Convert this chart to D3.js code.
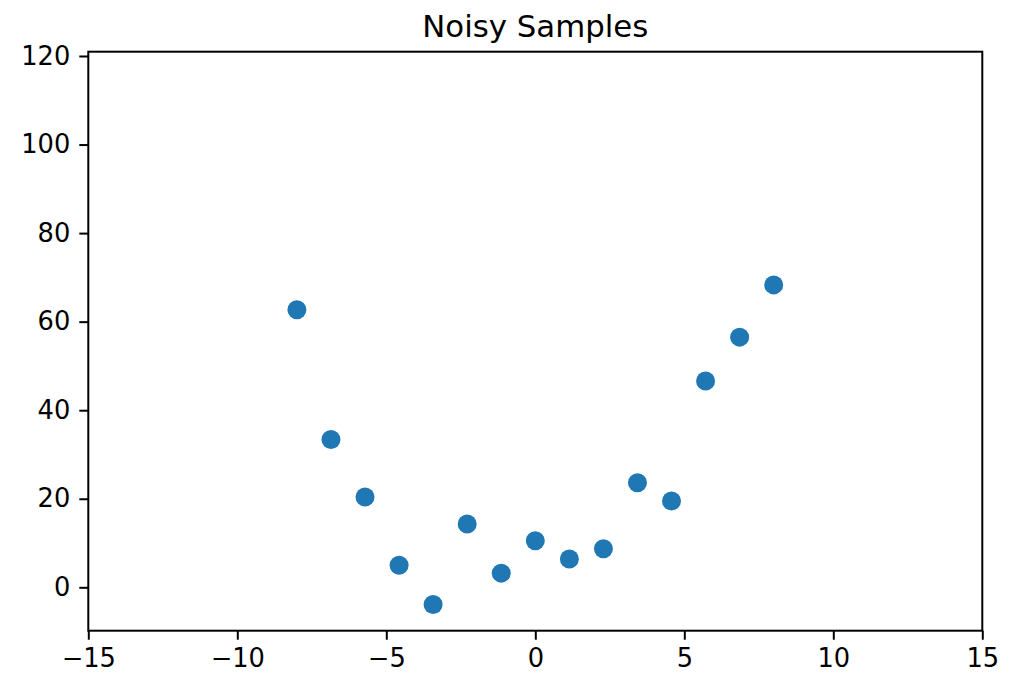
<!DOCTYPE html>
<html>
<head>
<meta charset="utf-8">
<script src="https://cdn.jsdelivr.net/npm/d3@7"></script>
<style>
  body { margin: 0; background: #fff; }
  text { font-family: "DejaVu Sans", sans-serif; fill: #000; }
</style>
</head>
<body>
<svg id="chart" width="1011" height="675"></svg>
<script>
"use strict";

// sample positions and the noisy values
let xs = [-8, -6.857, -5.714, -4.571, -3.429, -2.286, -1.143, 0, 1.143, 2.286, 3.429, 4.571, 5.714, 6.857, 8];
let ys = [62.7, 33.4, 20.4, 5.0, -3.9, 14.3, 3.2, 10.5, 6.4, 8.7, 23.6, 19.5, 46.6, 56.5, 68.3];

let xTicks = [-15, -10, -5, 0, 5, 10, 15];
let yTicks = [0, 20, 40, 60, 80, 100, 120];

let svg = d3.select("#chart");

// plot area (matches the matplotlib axes box)
let plotLeft = 88.3, plotRight = 982.3, plotTop = 51.7, plotBottom = 630.7;

let xScale = d3.scaleLinear().domain([-15, 15]).range([plotLeft, plotRight]);
let yScale = d3.scaleLinear().domain([-9.8, 120.97]).range([plotBottom, plotTop]);

let fmt = d => (d < 0 ? "\u2212" + Math.abs(d) : "" + d);

// dots
svg.append("g")
  .selectAll("circle")
  .data(xs.map((x, i) => ({ x: x, y: ys[i] })))
  .enter()
  .append("circle")
  .attr("cx", d => xScale(d.x))
  .attr("cy", d => yScale(d.y))
  .attr("r", 9.5)
  .attr("fill", "#1f77b4");

// frame
svg.append("rect")
  .attr("x", plotLeft)
  .attr("y", plotTop)
  .attr("width", plotRight - plotLeft)
  .attr("height", plotBottom - plotTop)
  .attr("fill", "none")
  .attr("stroke", "#000")
  .attr("stroke-width", 2);

// x axis
let xAxis = svg.append("g")
  .attr("transform", `translate(0, ${plotBottom})`)
  .call(d3.axisBottom(xScale).tickValues(xTicks).tickFormat(fmt).tickSize(9).tickPadding(9));

// y axis
let yAxis = svg.append("g")
  .attr("transform", `translate(${plotLeft}, 0)`)
  .call(d3.axisLeft(yScale).tickValues(yTicks).tickFormat(fmt).tickSize(9).tickPadding(9));

[xAxis, yAxis].forEach(ax => {
  ax.select(".domain").remove();
  ax.selectAll(".tick line").attr("stroke", "#000").attr("stroke-width", 2);
  ax.selectAll(".tick text")
    .style("font-family", "DejaVu Sans, sans-serif")
    .style("font-size", "25.7px")
    .attr("fill", "#000");
});

// title
svg.append("text")
  .attr("x", (plotLeft + plotRight) / 2)
  .attr("y", 36.5)
  .attr("text-anchor", "middle")
  .style("font-size", "30.8px")
  .text("Noisy Samples");
</script>
</body>
</html>
